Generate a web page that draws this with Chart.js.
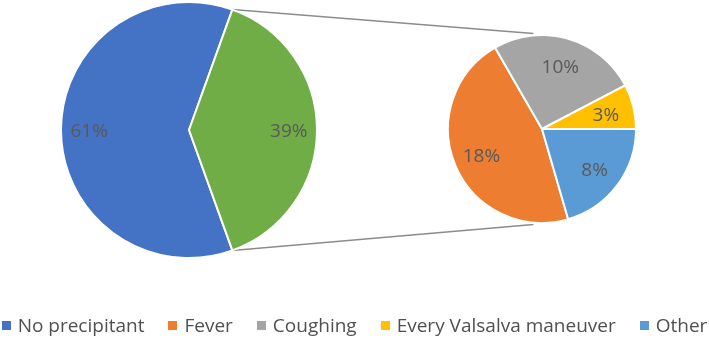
<!DOCTYPE html>
<html>
<head>
<meta charset="utf-8">
<script src="https://cdn.jsdelivr.net/npm/chart.js@4.4.1/dist/chart.umd.min.js"></script>
<style>
  html, body { margin: 0; padding: 0; background: #fff; }
  #wrap { position: relative; width: 709px; height: 340px; overflow: hidden; font-family: "Open Sans", sans-serif; }
  .box { position: absolute; }
  #mainBox { left: 60px; top: 1px; width: 258px; height: 258px; }
  #subBox { left: 447px; top: 34px; width: 190px; height: 190px; }
  #lines { position: absolute; left: 0; top: 0; }
  #legend { position: absolute; left: 0; top: 312px; width: 709px; display: flex; justify-content: center; gap: 24px; color: #505050; font-size: 19px; white-space: nowrap; }
  #legend span.item { display: flex; align-items: center; }
  #legend i { display: inline-block; width: 9px; height: 9px; margin-right: 7px; }
</style>
</head>
<body>
<div id="wrap">
  <canvas id="lines" width="709" height="340"></canvas>
  <div class="box" id="mainBox"><canvas id="mainPie"></canvas></div>
  <div class="box" id="subBox"><canvas id="subPie"></canvas></div>
  <div id="legend"></div>
</div>
<script>
// main pie: no precipitant vs. all precipitants
const mainLabels = ['No precipitant', 'Precipitant'];
const mainValues = [61, 39];
const mainColors = ['#4472C4', '#70AD47'];

// secondary pie: breakdown of the precipitant share
const subLabels = ['Fever', 'Coughing', 'Every Valsalva maneuver', 'Other'];
const subValues = [18, 10, 3, 8];
const subColors = ['#ED7D31', '#A5A5A5', '#FFC000', '#5B9BD5'];

const legendLabels = [mainLabels[0]].concat(subLabels);
const legendColors = [mainColors[0]].concat(subColors);

const sum = arr => arr.reduce((a, b) => a + b, 0);

// percent labels inside the slices
const pctLabels = {
    id: 'pctLabels',
    afterDatasetsDraw(chart, args, opts) {
        const ctx = chart.ctx;
        const meta = chart.getDatasetMeta(0);
        const vals = chart.data.datasets[0].data;
        ctx.save();
        ctx.font = '19px "Open Sans", sans-serif';
        ctx.fillStyle = '#595959';
        ctx.textAlign = 'center';
        ctx.textBaseline = 'middle';
        meta.data.forEach((arc, i) => {
            const a = (arc.startAngle + arc.endAngle) / 2;
            const r = arc.outerRadius * opts.pos;
            ctx.fillText(vals[i] + '%', arc.x + Math.cos(a) * r, arc.y + Math.sin(a) * r + 2);
        });
        ctx.restore();
    }
};

const baseOptions = {
    responsive: true,
    maintainAspectRatio: false,
    animation: false,
    layout: { padding: 0 },
    plugins: {
        legend: { display: false },
        tooltip: { enabled: false }
    }
};

// green slice centred on the right-hand side
const mainChart = new Chart(document.getElementById('mainPie'), {
    type: 'pie',
    data: {
        labels: mainLabels,
        datasets: [{
            data: mainValues,
            backgroundColor: mainColors,
            borderColor: '#fff',
            borderWidth: 2
        }]
    },
    options: {
        ...baseOptions,
        rotation: 90 + mainValues[1] / sum(mainValues) * 180,
        plugins: { ...baseOptions.plugins, pctLabels: { pos: 0.78 } }
    },
    plugins: [pctLabels]
});

// valsalva slice ends at 3 o'clock
const subChart = new Chart(document.getElementById('subPie'), {
    type: 'pie',
    data: {
        labels: subLabels,
        datasets: [{
            data: subValues,
            backgroundColor: subColors,
            borderColor: '#fff',
            borderWidth: 2
        }]
    },
    options: {
        ...baseOptions,
        rotation: 90 - sum(subValues.slice(0, 3)) / sum(subValues) * 360,
        plugins: { ...baseOptions.plugins, pctLabels: { pos: 0.7 } }
    },
    plugins: [pctLabels]
});

// connector lines between the two pies
function drawConnectors() {
    const ctx = document.getElementById('lines').getContext('2d');
    const mainBox = document.getElementById('mainBox');
    const subBox = document.getElementById('subBox');
    const green = mainChart.getDatasetMeta(0).data[1];
    const sub = subChart.getDatasetMeta(0).data[0];
    const mx = mainBox.offsetLeft + green.x, my = mainBox.offsetTop + green.y;
    const sx = subBox.offsetLeft + sub.x, sy = subBox.offsetTop + sub.y;
    const R = green.outerRadius, r = sub.outerRadius * 1.02;
    const off = 0.09;

    ctx.strokeStyle = '#8c8c8c';
    ctx.lineWidth = 1.5;
    ctx.beginPath();
    ctx.moveTo(mx + Math.cos(green.startAngle) * R, my + Math.sin(green.startAngle) * R);
    ctx.lineTo(sx + Math.cos(-Math.PI / 2 - off) * r, sy + Math.sin(-Math.PI / 2 - off) * r);
    ctx.moveTo(mx + Math.cos(green.endAngle) * R, my + Math.sin(green.endAngle) * R);
    ctx.lineTo(sx + Math.cos(Math.PI / 2 + off) * r, sy + Math.sin(Math.PI / 2 + off) * r);
    ctx.stroke();
}
drawConnectors();

// legend
const legend = document.getElementById('legend');
legend.innerHTML = legendLabels.map((l, i) =>
    `<span class="item"><i style="background:${legendColors[i]}"></i>${l}</span>`
).join('');
</script>
</body>
</html>
